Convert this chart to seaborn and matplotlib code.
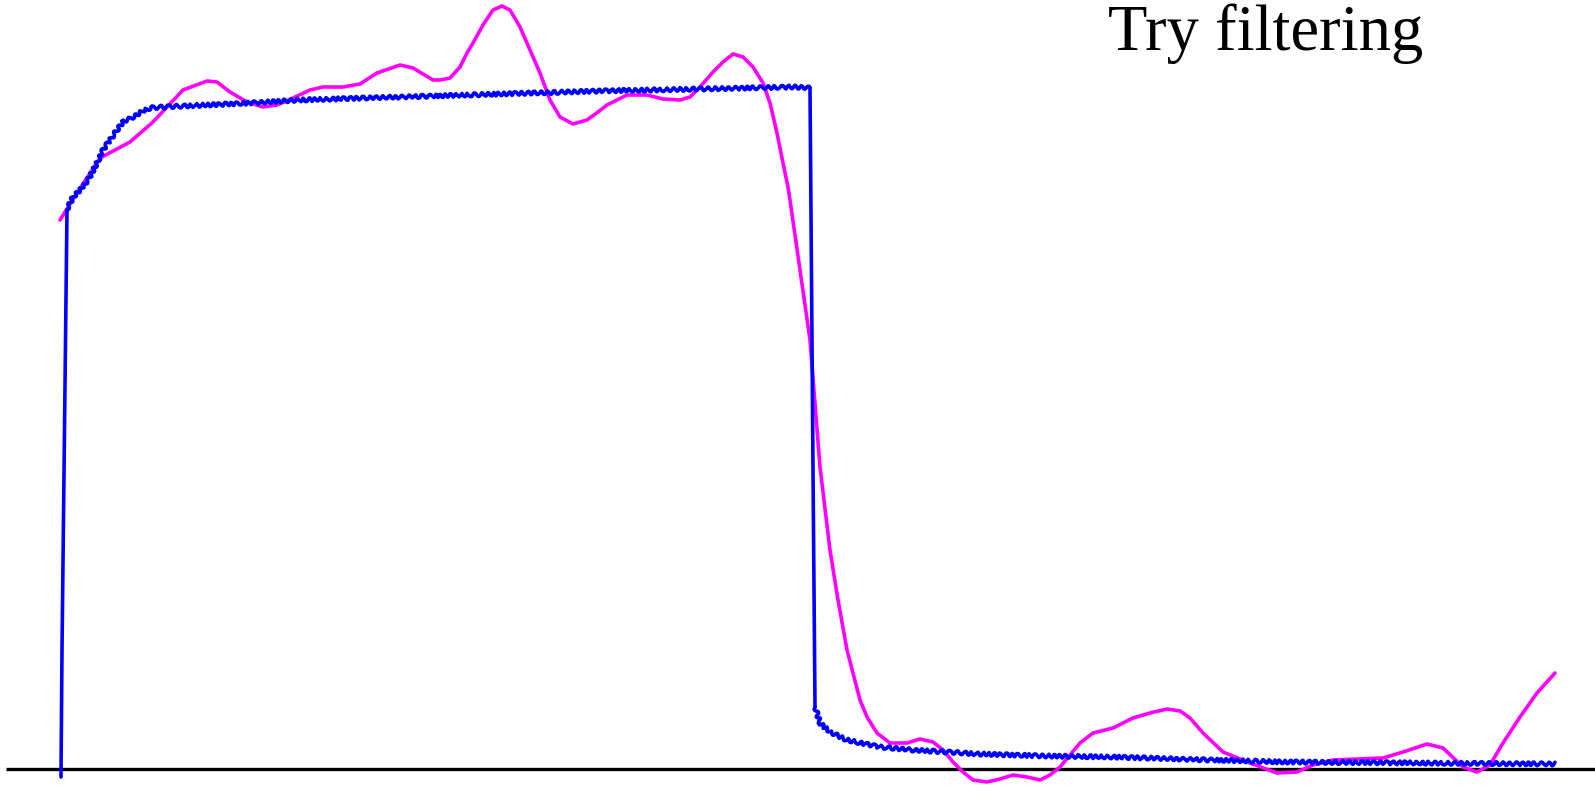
import matplotlib
matplotlib.use("Agg")
import matplotlib.pyplot as plt
import seaborn as sns
import pandas as pd

# ---- data (x = time, y = signal level) ----
raw_x = [61, 62, 67, 73, 80, 88, 97, 103, 110, 117, 123, 133, 143, 150, 163,
         250, 300, 400, 500, 600, 700, 795, 810, 811, 813, 815, 820, 830, 847,
         880, 913, 980, 1047, 1113, 1177, 1283, 1417, 1555]
raw_y = [-8, 119, 559, 572, 579, 589, 606, 619, 629, 639, 647, 652, 658, 661, 662,
         666, 669, 672, 675, 678, 680, 682, 681, 556, 300, 62, 46, 37, 29,
         22, 19, 15, 13, 12, 10, 7, 6, 5]
# edges (the steep rise and fall) are drawn as plain strokes, the rest carries the ripple
raw_part = ["edge"] * 2 + ["ripple"] * 20 + ["edge"] * 3 + ["ripple"] * 13

filt_x = [60, 77, 100, 130, 153, 183, 207, 217, 230, 247, 263, 277, 293, 310, 323,
          343, 360, 377, 400, 413, 433, 440, 450, 460, 467, 473, 483, 493, 502,
          510, 520, 530, 540, 550, 560, 573, 587, 598, 607, 627, 647, 663, 680,
          690, 700, 713, 723, 733, 743, 753, 763, 770, 777, 783, 788, 790, 800,
          810, 820, 830, 838, 847, 860, 867, 877, 890, 907, 920, 933, 943, 953,
          963, 973, 987, 1000, 1013, 1027, 1040, 1050, 1060, 1070, 1080, 1093,
          1113, 1133, 1150, 1167, 1180, 1190, 1203, 1223, 1250, 1277, 1297, 1313,
          1333, 1383, 1403, 1427, 1443, 1463, 1477, 1490, 1503, 1520, 1537, 1555]
filt_y = [549, 576, 611, 627, 647, 679, 688, 687, 677, 667, 662, 664, 671, 679, 682,
          682, 685, 696, 704, 701, 689, 689, 691, 702, 716, 726, 744, 759, 763,
          759, 742, 719, 696, 669, 652, 645, 649, 657, 664, 674, 674, 670, 669,
          672, 682, 697, 707, 715, 712, 702, 686, 666, 636, 606, 582, 569, 499,
          429, 302, 219, 169, 119, 69, 52, 36, 26, 26, 30, 27, 19, 7,
          -3, -11, -13, -10, -6, -8, -11, -6, 2, 14, 26, 36,
          41, 51, 56, 60, 58, 51, 36, 17, 6, -4, -3, 4,
          9, 11, 17, 25, 21, 2, -3, 4, 26, 52, 76, 96]

label_text = "Try filtering"

filt_df = pd.DataFrame({"t": filt_x, "v": filt_y})

sns.set_theme(style="white")
plt.rcParams["font.family"] = ["Liberation Serif", "DejaVu Serif"]

fig = plt.figure(figsize=(15.95, 7.91), dpi=100)
ax = fig.add_axes([0, 0, 1, 1])

ax.hlines(0, 6, 1595, color="black", lw=2.4, zorder=1)

sns.lineplot(data=filt_df, x="t", y="v", sort=False, estimator=None,
             color="#FF00FF", lw=2.6, ax=ax, zorder=2)
ax.lines[-1].set_solid_joinstyle("round")

# split the raw trace into consecutive runs (each run shares its end point with the next)
runs = []
start = 0
for i in range(1, len(raw_part) + 1):
    if i == len(raw_part) or raw_part[i] != raw_part[start]:
        end = min(i + 1, len(raw_part))
        runs.append((raw_part[start], start, end))
        start = i
for kind, s, e in runs:
    seg = pd.DataFrame({"t": raw_x[s:e], "v": raw_y[s:e]})
    sns.lineplot(data=seg, x="t", y="v", sort=False, estimator=None,
                 color="#0000FF", lw=2.6, ax=ax, zorder=3)
    ln = ax.lines[-1]
    ln.set_solid_capstyle("round")
    if kind == "ripple":
        ln.set_sketch_params(scale=1.8, length=7, randomness=2)

ax.text(1108, 719, label_text, fontsize=46.5, color="black",
        ha="left", va="baseline", family=["Liberation Serif", "DejaVu Serif"])

ax.set_xlim(0, 1595)
ax.set_ylim(-22, 769)
ax.axis("off")

fig.savefig("out.png", dpi=100, facecolor="white")
